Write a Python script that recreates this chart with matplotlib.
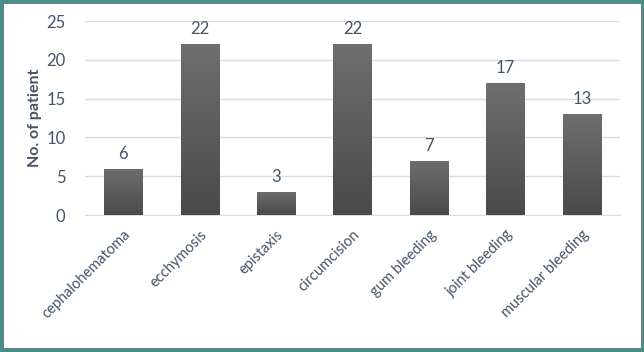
import numpy as np
import matplotlib
matplotlib.use('Agg')
import matplotlib.pyplot as plt
import matplotlib.transforms as mtransforms
from matplotlib.patches import Rectangle

# --- 資料 ---
categories = ['cephalohematoma', 'ecchymosis', 'epistaxis', 'circumcision',
              'gum bleeding', 'joint bleeding', 'muscular bleeding']
patients = [6, 22, 3, 22, 7, 17, 13]
y_ticks = [0, 5, 10, 15, 20, 25]

plt.rcParams['font.family'] = ['Lato', 'DejaVu Sans']
text_color = '#44546a'
border_color = '#4e8c88'

fig = plt.figure(figsize=(6.44, 3.52), dpi=100)
fig.patch.set_facecolor('white')
ax = fig.add_axes([0.132, 0.389, 0.831, 0.551])

x = np.arange(len(categories))
bars = ax.bar(x, patients, width=0.5, color='#5a5a5a', zorder=2)

# 漸層填色
grad = np.linspace(0, 1, 256).reshape(-1, 1)
cmap = matplotlib.colors.LinearSegmentedColormap.from_list('g', ['#4a4a4a', '#6e6e6e'])
for b in bars:
    bx, by = b.get_x(), b.get_y()
    w, h = b.get_width(), b.get_height()
    im = ax.imshow(grad, cmap=cmap, aspect='auto', origin='lower',
                   extent=[bx, bx + w, by, by + h], zorder=3)
    im.set_clip_path(b)

for xi, v in zip(x, patients):
    ax.text(xi, v + 0.9, str(v), ha='center', va='bottom',
            fontsize=12, color=text_color)

ax.set_xlim(-0.5, len(categories) - 0.5)
ax.set_ylim(0, 25)
ax.set_yticks(y_ticks)
ax.set_xticks(x)
ax.set_xticklabels(categories, rotation=45, ha='right', rotation_mode='anchor',
                   fontsize=10.5, color=text_color)
# 標籤稍微往右移
offset = mtransforms.ScaledTranslation(7 / 100, 0, fig.dpi_scale_trans)
for lbl in ax.get_xticklabels():
    lbl.set_transform(lbl.get_transform() + offset)
ax.tick_params(axis='y', labelsize=12, labelcolor=text_color, length=0, pad=14)
ax.tick_params(axis='x', length=0, pad=9)
ax.set_ylabel('No. of patient', fontsize=11.5, fontweight='bold', color=text_color, labelpad=3)

ax.grid(axis='y', color='#d9dde6', linewidth=1, zorder=0)
for s in ['top', 'right', 'left']:
    ax.spines[s].set_visible(False)
ax.spines['bottom'].set_color('#d9dde6')

# 外框
fig.patches.append(Rectangle((0, 0), 1, 1, transform=fig.transFigure,
                             fill=False, edgecolor=border_color, linewidth=5))
fig.patches.append(Rectangle((0, 0), 1, 0.012, transform=fig.transFigure,
                             facecolor=border_color, edgecolor='none'))

fig.savefig('out.png', dpi=100)
